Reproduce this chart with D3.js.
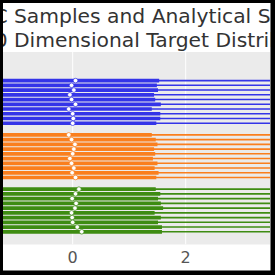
<!DOCTYPE html>
<html><head><meta charset="utf-8">
<script src="https://cdn.jsdelivr.net/npm/d3@7"></script>
<style>html,body{margin:0;padding:0;background:#fff;overflow:hidden}svg{display:block}</style>
</head><body>
<svg id="chart" width="275" height="275"></svg>
<script>
const titleLines = ["MCMC Samples and Analytical Scores for a", "10 Dimensional Target Distribution"];
const groups = ["blue", "orange", "green"];
const groupColors = ["#3434e8", "#fa7f1e", "#3e8c12"];
const xTicks = [0, 2];
const xTickLabels = ["0", "2"];
// medians per row (10 rows per group)
const blueMedian   = [0.05, -0.02, 0.02, -0.05, -0.02, 0.05, -0.07, 0.00, 0.01, 0.00];
const orangeMedian = [-0.07, -0.02, 0.04, 0.02, 0.00, -0.05, -0.02, 0.02, -0.01, 0.05];
const greenMedian  = [0.11, 0.05, -0.01, 0.06, 0.04, -0.02, -0.01, 0.00, 0.08, 0.16];
// thick (interquartile) upper ends
const blueQ3   = [1.53, 1.49, 1.51, 1.44, 1.46, 1.56, 1.40, 1.55, 1.55, 1.48];
const orangeQ3 = [1.40, 1.47, 1.50, 1.44, 1.46, 1.42, 1.50, 1.45, 1.52, 1.48];
const greenQ3  = [1.47, 1.55, 1.51, 1.56, 1.60, 1.45, 1.56, 1.51, 1.58, 1.58];
// thick lower ends (outside the visible area)
const blueQ1   = [-1.50, -1.52, -1.49, -1.55, -1.47, -1.51, -1.53, -1.48, -1.50, -1.52];
const orangeQ1 = [-1.52, -1.49, -1.51, -1.47, -1.53, -1.50, -1.48, -1.52, -1.49, -1.51];
const greenQ1  = [-1.49, -1.51, -1.53, -1.48, -1.50, -1.52, -1.47, -1.51, -1.50, -1.49];
// thin (interval) ends
const blueLo   = [-3.9, -3.8, -3.9, -3.7, -3.8, -3.9, -3.8, -3.9, -3.8, -3.7];
const blueHi   = [3.9, 3.8, 3.9, 3.8, 3.7, 3.9, 3.8, 3.9, 3.8, 3.8];
const orangeLo = [-3.8, -3.9, -3.7, -3.8, -3.9, -3.8, -3.7, -3.9, -3.8, -3.9];
const orangeHi = [3.8, 3.9, 3.8, 3.7, 3.9, 3.8, 3.9, 3.8, 3.9, 3.8];
const greenLo  = [-3.9, -3.8, -3.8, -3.9, -3.7, -3.8, -3.9, -3.8, -3.7, -3.9];
const greenHi  = [3.9, 3.8, 3.9, 3.8, 3.9, 3.7, 3.8, 3.9, 3.9, 3.8];

const medians = [blueMedian, orangeMedian, greenMedian];
const q1s = [blueQ1, orangeQ1, greenQ1];
const q3s = [blueQ3, orangeQ3, greenQ3];
const los = [blueLo, orangeLo, greenLo];
const his = [blueHi, orangeHi, greenHi];

const rows = [];
groups.forEach((g, gi) => {
  medians[gi].forEach((m, i) => {
    rows.push({g: gi, pos: gi * 11.45 + i, median: m, q1: q1s[gi][i], q3: q3s[gi][i], lo: los[gi][i], hi: his[gi][i]});
  });
});

const svg = d3.select("#chart");
const W = 275, H = 275;
const plot = {left: 3, right: 270, top: 52, bottom: 244.5};

const x = d3.scaleLinear().domain([0, 2]).range([72.7, 185.7]);
const y = d3.scaleLinear().domain([-6.03, 34.58]).range([plot.top, plot.bottom]);

svg.append("rect").attr("x", 0).attr("y", 0).attr("width", W).attr("height", H).attr("fill", "#fff");

svg.append("defs").append("clipPath").attr("id", "clip")
  .append("rect").attr("x", plot.left).attr("y", plot.top)
  .attr("width", plot.right - plot.left).attr("height", plot.bottom - plot.top);

svg.append("rect").attr("x", plot.left).attr("y", plot.top)
  .attr("width", plot.right - plot.left).attr("height", plot.bottom - plot.top)
  .attr("fill", "#ebebeb");

const gp = svg.append("g").attr("clip-path", "url(#clip)");

// grid
gp.selectAll("line.grid").data(xTicks).join("line")
  .attr("x1", d => x(d)).attr("x2", d => x(d))
  .attr("y1", plot.top).attr("y2", plot.bottom)
  .attr("stroke", "#ffffff").attr("stroke-width", 1);

// thin lines
gp.selectAll("line.thin").data(rows).join("line")
  .attr("x1", d => x(d.lo)).attr("x2", d => x(d.hi))
  .attr("y1", d => y(d.pos)).attr("y2", d => y(d.pos))
  .attr("stroke", d => groupColors[d.g]).attr("stroke-width", 1.6);

// thick lines
gp.selectAll("line.thick").data(rows).join("line")
  .attr("x1", d => x(d.q1)).attr("x2", d => x(d.q3))
  .attr("y1", d => y(d.pos)).attr("y2", d => y(d.pos))
  .attr("stroke", d => groupColors[d.g]).attr("stroke-width", 3.7);

// medians
gp.selectAll("circle.med").data(rows).join("circle")
  .attr("cx", d => x(d.median)).attr("cy", d => y(d.pos)).attr("r", 2.3)
  .attr("fill", "#ffffff").attr("stroke", d => groupColors[d.g]).attr("stroke-width", 0.7);

// x tick labels
svg.append("g").selectAll("text").data(xTicks).join("text")
  .attr("x", d => x(d)).attr("y", 263.3)
  .attr("text-anchor", "middle")
  .attr("font-family", "DejaVu Sans, sans-serif").attr("font-size", 16)
  .attr("fill", "#555555")
  .text((d, i) => xTickLabels[i]);

// title
const titleBaselines = [23.3, 46.8];
const prefixLens = [5, 3];
titleLines.forEach((t, i) => {
  const tx = svg.append("text")
    .attr("x", 0).attr("y", titleBaselines[i])
    .attr("font-family", "DejaVu Sans, sans-serif").attr("font-size", 20.3)
    .attr("fill", "#333333").text(t);
  const off = tx.node().getSubStringLength(0, prefixLens[i]);
  tx.attr("x", 14 - off);
});

// border
svg.append("rect").attr("x", 0).attr("y", 0).attr("width", W).attr("height", 3).attr("fill", "#000");
svg.append("rect").attr("x", 0).attr("y", 0).attr("width", 3).attr("height", H).attr("fill", "#000");
svg.append("rect").attr("x", 270.5).attr("y", 0).attr("width", 4.5).attr("height", H).attr("fill", "#000");
svg.append("rect").attr("x", 0).attr("y", 270.5).attr("width", W).attr("height", 4.5).attr("fill", "#000");
</script>
</body></html>
